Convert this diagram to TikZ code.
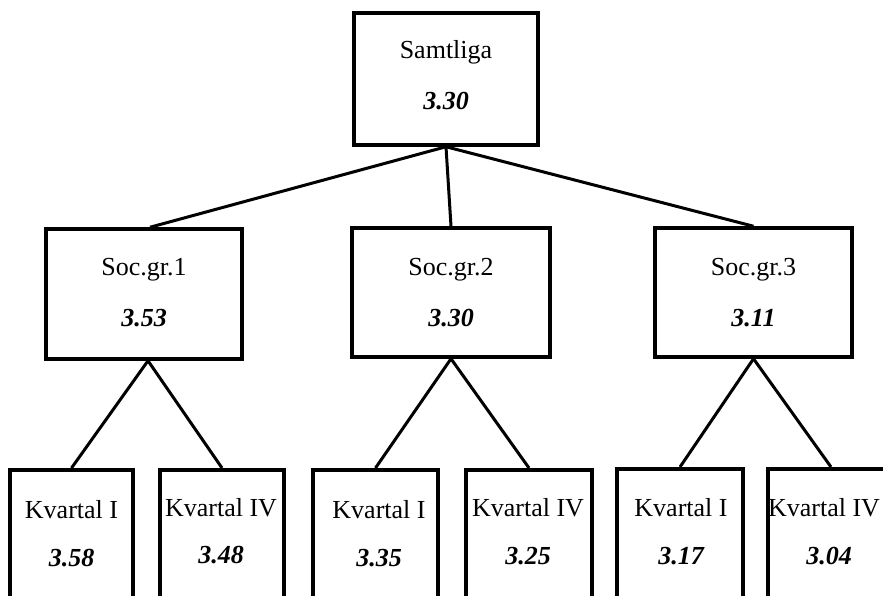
\documentclass[tikz,border=0pt]{standalone}
\usepackage{fontspec}
\setmainfont{Liberation Serif}
\begin{document}
\begin{tikzpicture}[x=1pt,y=-1pt,
  box/.style={draw, line width=3.5pt, inner sep=0pt},
  conn/.style={line width=3pt},
  lbl/.style={inner sep=0pt, font=\fontsize{26}{29}\selectfont},
  val/.style={inner sep=0pt, font=\fontsize{26}{29}\selectfont\bfseries\itshape}]
\useasboundingbox (0,0) rectangle (883,596);
\clip (0,0) rectangle (883,596);
% top
\node[box, minimum width=184pt, minimum height=132pt] (top) at (446,79) {};
\node[lbl] (toplbl) at (446,52) {Samtliga};
\node[val] (topval) at (446,101) {3.30};
% social groups
\node[box, minimum width=196pt, minimum height=130pt] (s1) at (144,294) {};
\node[box, minimum width=198pt, minimum height=129pt] (s2) at (451,292.5) {};
\node[box, minimum width=197pt, minimum height=129pt] (s3) at (753.5,292.5) {};
\node[lbl] (s1l) at (144,270) {Soc.gr.1};
\node[val] (s1v) at (144,318) {3.53};
\node[lbl] (s2l) at (451,270) {Soc.gr.2};
\node[val] (s2v) at (451,318) {3.30};
\node[lbl] (s3l) at (753.5,270) {Soc.gr.3};
\node[val] (s3v) at (753.5,318) {3.11};
% quarters
\node[box, anchor=north, minimum width=123pt, minimum height=170pt] (k11) at (71.5,468) {};
\node[box, anchor=north, minimum width=124pt, minimum height=170pt] (k12) at (222,468) {};
\node[box, anchor=north, minimum width=125pt, minimum height=170pt] (k21) at (375.5,468) {};
\node[box, anchor=north, minimum width=126pt, minimum height=170pt] (k22) at (529,468) {};
\node[box, anchor=north, minimum width=126pt, minimum height=170pt] (k31) at (680,467) {};
\node[box, anchor=north, minimum width=126pt, minimum height=170pt] (k32) at (831,467) {};
\node[lbl] (k11l) at (71.5,510) {Kvartal I};
\node[val] (k11v) at (71.5,558) {3.58};
\node[lbl] (k12l) at (221,508) {Kvartal IV};
\node[val] (k12v) at (221,555) {3.48};
\node[lbl] (k21l) at (379,510) {Kvartal I};
\node[val] (k21v) at (379,558) {3.35};
\node[lbl] (k22l) at (528,508) {Kvartal IV};
\node[val] (k22v) at (528,556) {3.25};
\node[lbl] (k31l) at (681,508) {Kvartal I};
\node[val] (k31v) at (681,556) {3.17};
\node[lbl] (k32l) at (824,508) {Kvartal IV};
\node[val] (k32v) at (829,556) {3.04};
% connectors
\draw[conn] (top.south) -- ([xshift=6pt]s1.north);
\draw[conn] (top.south) -- (s2.north);
\draw[conn] (top.south) -- (s3.north);
\draw[conn] ([xshift=4pt]s1.south) -- (k11.north);
\draw[conn] ([xshift=4pt]s1.south) -- (k12.north);
\draw[conn] (s2.south) -- (k21.north);
\draw[conn] (s2.south) -- (k22.north);
\draw[conn] (s3.south) -- (k31.north);
\draw[conn] (s3.south) -- (k32.north);
\end{tikzpicture}
\end{document}
